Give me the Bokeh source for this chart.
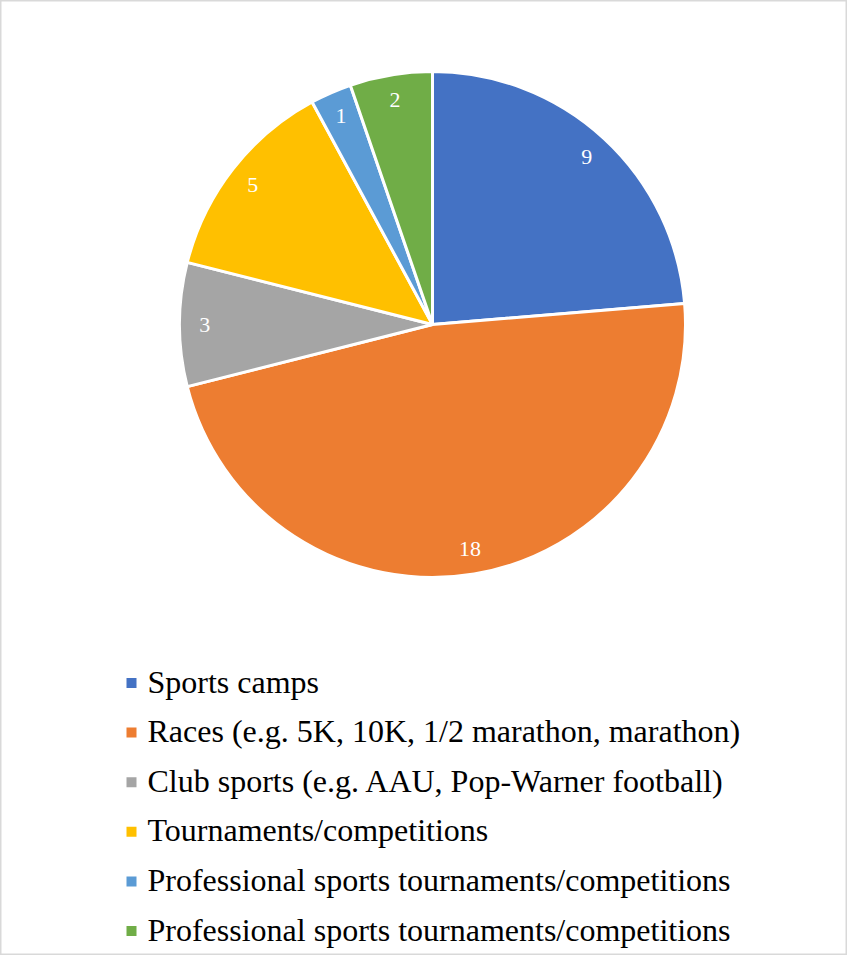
import math
from bokeh.plotting import figure
from bokeh.models import ColumnDataSource
from bokeh.core.properties import value
from bokeh.embed import file_html
from bokeh.resources import INLINE

categories = [
    "Sports camps",
    "Races (e.g. 5K, 10K, 1/2 marathon, marathon)",
    "Club sports (e.g. AAU, Pop-Warner football)",
    "Tournaments/competitions",
    "Professional sports tournaments/competitions",
    "Professional sports tournaments/competitions",
]
counts = [9, 18, 3, 5, 1, 2]
colors = ["#4472C4", "#ED7D31", "#A5A5A5", "#FFC000", "#5B9BD5", "#70AD47"]

W, H = 847, 955
CX, CY, R = 432, H - 324, 253
LABEL_R = 0.9

total = sum(counts)
starts, ends, lx, ly = [], [], [], []
cum = 0
for v in counts:
    a0 = math.pi / 2 - 2 * math.pi * cum / total
    a1 = a0 - 2 * math.pi * v / total
    starts.append(a0)
    ends.append(a1)
    mid = (a0 + a1) / 2
    lx.append(CX + LABEL_R * R * math.cos(mid))
    ly.append(CY + LABEL_R * R * math.sin(mid))
    cum += v

src = ColumnDataSource(dict(start=starts, end=ends, color=colors,
                            lx=lx, ly=ly, txt=[str(c) for c in counts]))

p = figure(width=W, height=H, x_range=(0, W), y_range=(0, H),
           output_backend="svg", toolbar_location=None,
           x_axis_location=None, y_axis_location=None, min_border=0)
p.grid.visible = False
p.outline_line_color = "#d9d9d9"
p.outline_line_width = 2
p.background_fill_color = "white"
p.border_fill_color = "white"

p.wedge(x=CX, y=CY, radius=R, start_angle="start", end_angle="end",
        direction="clock", fill_color="color", line_color="white",
        line_width=3, source=src)

p.text(x="lx", y="ly", text="txt", source=src, text_color="white",
       text_font=value("Liberation Serif"), text_font_size="22px",
       text_align="center", text_baseline="middle")

# legend
row0 = H - 681
step = 49.6
leg_y = [row0 - i * step for i in range(len(categories))]
leg_src = ColumnDataSource(dict(y=leg_y, sy=[y - 1.5 for y in leg_y],
                                color=colors, name=categories))
p.scatter(x=131, y="sy", size=10, marker="square", fill_color="color",
          line_color=None, source=leg_src)
p.text(x=147, y="y", text="name", source=leg_src, text_color="black",
       text_font=value("Liberation Serif"), text_font_size="32px",
       text_align="left", text_baseline="middle")

open("out.html", "w").write(file_html(p, INLINE))
